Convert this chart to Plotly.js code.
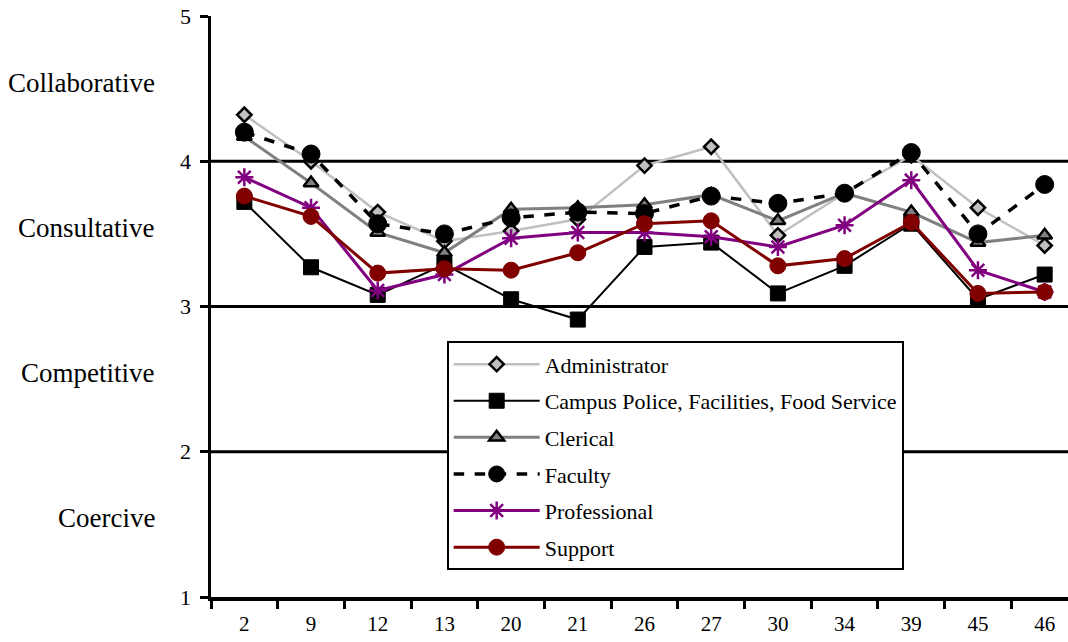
<!DOCTYPE html>
<html>
<head>
<meta charset="utf-8">
<script src="https://cdn.plot.ly/plotly-3.0.1.min.js"></script>
<style>html,body{margin:0;padding:0;background:#fff;}#chart{width:1068px;height:642px;}</style>
</head>
<body>
<div id="chart"></div>
<script>
const categories = ['2','9','12','13','20','21','26','27','30','34','39','45','46'];
const administrator = [4.32, 4.00, 3.65, 3.45, 3.52, 3.60, 3.97, 4.10, 3.49, 3.78, 4.04, 3.68, 3.42];
const campusPolice  = [3.72, 3.27, 3.08, 3.29, 3.05, 2.91, 3.41, 3.44, 3.09, 3.28, 3.57, 3.05, 3.22];
const clerical      = [4.17, 3.85, 3.51, 3.37, 3.67, 3.68, 3.70, 3.77, 3.59, 3.78, 3.65, 3.44, 3.49];
const faculty       = [4.20, 4.05, 3.57, 3.50, 3.61, 3.65, 3.64, 3.76, 3.71, 3.78, 4.06, 3.50, 3.84];
const professional  = [3.89, 3.68, 3.11, 3.22, 3.47, 3.51, 3.51, 3.48, 3.41, 3.56, 3.87, 3.25, 3.10];
const support       = [3.76, 3.62, 3.23, 3.26, 3.25, 3.37, 3.57, 3.59, 3.28, 3.33, 3.58, 3.09, 3.10];
const seriesNames = ['Administrator', 'Campus Police, Facilities, Food Service', 'Clerical', 'Faculty', 'Professional', 'Support'];
const yTickVals = [1, 2, 3, 4, 5];
const bandLabels = ['Collaborative', 'Consultative', 'Competitive', 'Coercive'];
const bandCenters = [4.5, 3.5, 2.5, 1.5];
const gridLevels = [2, 3, 4];

const FONT = '"Liberation Serif", "Times New Roman", serif';

function tr(name, y, lineColor, lineWidth, dash, marker, group) {
  return {
    type: 'scatter', mode: 'lines+markers', name: name, x: categories, y: y,
    line: {color: lineColor, width: lineWidth, dash: dash},
    marker: marker, legendgroup: group
  };
}

const data = [
  tr(seriesNames[0], administrator, '#c0c0c0', 2.5, 'solid',
     {symbol: 'diamond', size: 11, color: '#c0c0c0', line: {color: '#000', width: 2.5}}, 'g1'),
  tr(seriesNames[1], campusPolice, '#000000', 2, 'solid',
     {symbol: 'square', size: 15, color: '#000', line: {color: '#000', width: 1}}, 'g2'),
  tr(seriesNames[2], clerical, '#808080', 3, 'solid',
     {symbol: 'triangle-up', size: 13, color: '#808080', line: {color: '#000', width: 2.5}}, 'g3'),
  tr(seriesNames[3], faculty, '#000000', 3.5, 'dash',
     {symbol: 'circle', size: 18, color: '#000', line: {color: '#000', width: 1}}, 'g4'),
  tr(seriesNames[4], professional, '#800080', 3, 'solid',
     {symbol: 'asterisk-open', size: 15, color: '#800080', line: {color: '#800080', width: 2.5}}, 'g5'),
  tr(seriesNames[5], support, '#800000', 3, 'solid',
     {symbol: 'circle', size: 16, color: '#800000', line: {color: '#800000', width: 1}}, 'g6')
];

const shapes = gridLevels.map(v => ({
  type: 'line', xref: 'paper', yref: 'y', x0: 0, x1: 1, y0: v, y1: v,
  line: {color: '#000', width: 3}, layer: 'below'
}));

const annotations = bandLabels.map((t, i) => ({
  text: t, xref: 'paper', yref: 'y', x: -0.063, y: bandCenters[i], yshift: 6,
  xanchor: 'right', yanchor: 'middle', showarrow: false,
  font: {family: FONT, size: 27, color: '#000'}
}));

const layout = {
  width: 1068, height: 642,
  margin: {l: 211, r: 0, t: 16, b: 45},
  paper_bgcolor: '#fff', plot_bgcolor: '#fff',
  font: {family: FONT, color: '#000', size: 22},
  showlegend: true,
  legend: {
    x: 0.275, y: 0.44, xanchor: 'left', yanchor: 'top',
    bordercolor: '#000', borderwidth: 2, bgcolor: '#fff',
    font: {family: FONT, size: 22, color: '#000'},
    traceorder: 'grouped', tracegroupgap: 5, itemwidth: 86
  },
  xaxis: {
    type: 'category', categoryorder: 'array', categoryarray: categories,
    range: [-0.5, 12.35], tickson: 'boundaries',
    ticks: 'outside', ticklen: 8, tickwidth: 3, tickcolor: '#000',
    showline: true, linecolor: '#000', linewidth: 4,
    showgrid: false, zeroline: false, fixedrange: true,
    ticklabelstandoff: 5,
    tickfont: {family: FONT, size: 21, color: '#000'}
  },
  yaxis: {
    range: [1, 5], tickmode: 'array', tickvals: yTickVals,
    ticks: 'outside', ticklen: 8, tickwidth: 3, tickcolor: '#000',
    showline: true, linecolor: '#000', linewidth: 3.5,
    showgrid: false, zeroline: false, fixedrange: true,
    ticklabelstandoff: 4,
    tickfont: {family: FONT, size: 22, color: '#000'}
  },
  shapes: shapes,
  annotations: annotations
};

Plotly.newPlot('chart', data, layout, {displayModeBar: false, staticPlot: true});
</script>
</body>
</html>
